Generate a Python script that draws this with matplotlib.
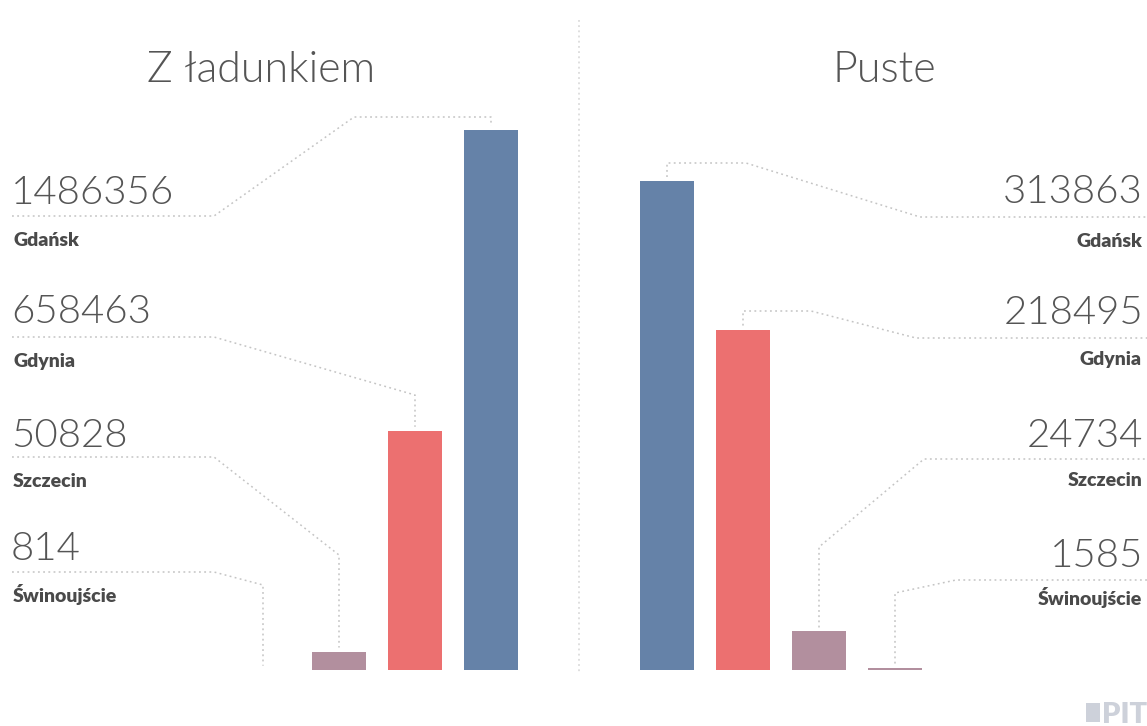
import matplotlib
matplotlib.use("Agg")
import matplotlib.pyplot as plt
from matplotlib.patches import Rectangle

# Container counts per port
ports_loaded = ["Świnoujście", "Szczecin", "Gdynia", "Gdańsk"]
loaded = [814, 50828, 658463, 1486356]

ports_empty = ["Gdańsk", "Gdynia", "Szczecin", "Świnoujście"]
empty = [313863, 218495, 24734, 1585]

label_order = ["Gdańsk", "Gdynia", "Szczecin", "Świnoujście"]
title_loaded = "Z ładunkiem"
title_empty = "Puste"

port_colors = {
    "Gdańsk": "#6582a8",
    "Gdynia": "#ec7070",
    "Szczecin": "#b28f9e",
    "Świnoujście": "#b28f9e",
}

W, H, DPI = 1147, 726, 100
FONT = ["Lato", "DejaVu Sans"]
NUM_COLOR = "#555555"
LAB_COLOR = "#4a4a4a"
DOT_COLOR = "#c4c4c4"
DOTS = (0, (1.2, 2.2))
NUM_SIZE = 29
LAB_SIZE = 14
TITLE_SIZE = 31

fig = plt.figure(figsize=(W / DPI, H / DPI), dpi=DPI)
fig.patch.set_facecolor("white")

BASE = 670  # baseline of both bar groups, pixels from top
STEP = 76   # spacing of bar centres in pixels
BAR_W = 0.70


def bar_axes(x0, x1, first_center, vmax, top_px):
    ax = fig.add_axes([x0 / W, (H - BASE) / H, (x1 - x0) / W, BASE / H])
    ax.set_xlim((x0 - first_center) / STEP, (x1 - first_center) / STEP)
    ax.set_ylim(0, vmax * BASE / (BASE - top_px))
    ax.axis("off")
    ax.patch.set_alpha(0)
    return ax


ax_l = bar_axes(0, 578, 263, max(loaded), 130)
ax_r = bar_axes(578, W, 667, max(empty), 181)

ax_l.bar(range(len(loaded)), loaded, width=BAR_W,
         color=[port_colors[p] for p in ports_loaded])
ax_r.bar(range(len(empty)), empty, width=BAR_W,
         color=[port_colors[p] for p in ports_empty])

# overlay in pixel coordinates (origin top-left) for labels and leaders
ov = fig.add_axes([0, 0, 1, 1], zorder=0)
ov.set_xlim(0, W)
ov.set_ylim(H, 0)
ov.axis("off")
ov.patch.set_alpha(0)


def bar_top(ax, i, v):
    x, y = ax.transData.transform((i, v))
    return x, H - y


def leader(pts, color=DOT_COLOR):
    xs, ys = zip(*pts)
    ov.plot(xs, ys, color=color, lw=1.1, linestyle=DOTS)


# divider
leader([(579, 20), (579, 673)], color="#d6d6d6")

# titles
ov.text(261, 82, title_loaded, ha="center", va="baseline", fontsize=TITLE_SIZE,
        family=FONT, fontweight=300, color="#555555")
ov.text(884, 82, title_empty, ha="center", va="baseline", fontsize=TITLE_SIZE,
        family=FONT, fontweight=300, color="#555555")

# left column: labels and leaders
l_num_y = [204, 323, 447, 560]
l_line_y = [216, 337, 457, 572]
l_lab_y = [246, 367, 487, 602]
l_knee = [(354, 117), (None, 395), (None, 555), (None, 585)]

for r, port in enumerate(label_order):
    i = ports_loaded.index(port)
    v = loaded[i]
    bx, by = bar_top(ax_l, i, v)
    kx, ky = l_knee[r]
    kx = bx if kx is None else kx
    leader([(12, l_line_y[r]), (214, l_line_y[r]), (kx, ky), (bx, ky),
            (bx, by - 4)])
    ov.text(11, l_num_y[r], f"{v}", ha="left", va="baseline",
            fontsize=NUM_SIZE, family=FONT, fontweight=300, color=NUM_COLOR)
    ov.text(13, l_lab_y[r], port, ha="left", va="baseline",
            fontsize=LAB_SIZE, family=FONT, fontweight="heavy",
            color=LAB_COLOR)

# right column: labels and leaders
r_num_y = [203, 324, 447, 567]
r_line_y = [217, 338, 459, 580]
r_lab_y = [247, 365, 486, 605]
r_knee = [(746, 163, 920), (811, 311, 916), (None, 547, 924), (None, 593, 956)]

for r, port in enumerate(label_order):
    i = ports_empty.index(port)
    v = empty[i]
    bx, by = bar_top(ax_r, i, v)
    kx, ky, dx = r_knee[r]
    kx = bx if kx is None else kx
    leader([(bx, by - 4), (bx, ky), (kx, ky), (dx, r_line_y[r]),
            (W, r_line_y[r])])
    ov.text(1143, r_num_y[r], f"{v}", ha="right", va="baseline",
            fontsize=NUM_SIZE, family=FONT, fontweight=300, color=NUM_COLOR)
    ov.text(1142, r_lab_y[r], port, ha="right", va="baseline",
            fontsize=LAB_SIZE, family=FONT, fontweight="heavy",
            color=LAB_COLOR)

# small publisher mark in the corner
ov.add_patch(Rectangle((1086, 703), 14, 19, color="#cdd1da", lw=0))
ov.text(1102, 723, "PIT", ha="left", va="baseline", fontsize=21,
        family=FONT, fontweight="heavy", color="#cdd1da", clip_on=True)

fig.savefig("out.png", dpi=DPI, facecolor="white")
